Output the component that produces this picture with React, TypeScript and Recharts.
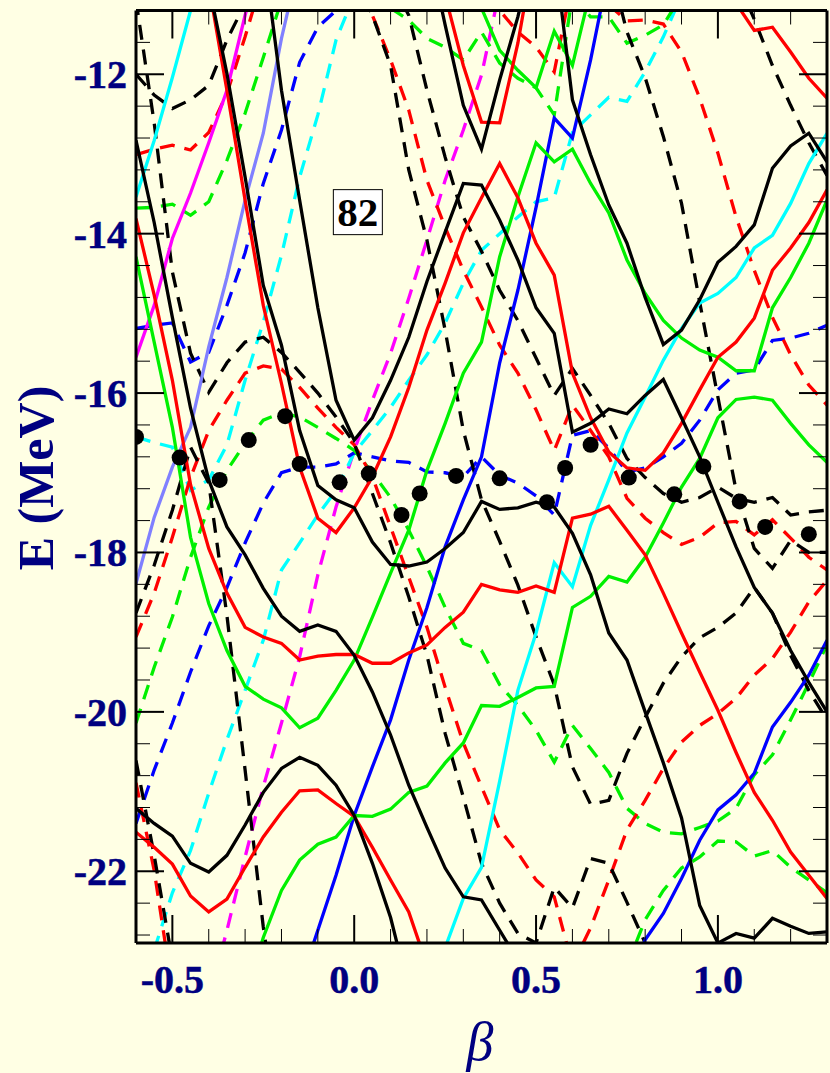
import React from 'react';
import { ComposedChart, Line, XAxis, YAxis, ReferenceDot } from 'recharts';

// Energy levels as [beta, E] pairs

const blackHump = [[-0.6,-21.21],[-0.55,-21.4],[-0.5,-21.56],[-0.45,-21.9],[-0.4,-22.01],[-0.35,-21.8],[-0.3,-21.42],[-0.25,-21.01],[-0.2,-20.71],[-0.15,-20.57],[-0.1,-20.67],[-0.05,-20.92],[0,-21.3],[0.05,-21.9],[0.1,-22.58],[0.15,-23.49]];
const blackLong = [[-0.6,-12.83],[-0.55,-13.86],[-0.5,-15.05],[-0.45,-16.19],[-0.4,-17.09],[-0.35,-17.68],[-0.3,-18.03],[-0.25,-18.45],[-0.2,-18.8],[-0.15,-18.99],[-0.1,-18.91],[-0.05,-18.99],[0,-19.29],[0.05,-19.75],[0.1,-20.29],[0.15,-20.92],[0.2,-21.45],[0.25,-21.96],[0.3,-22.32],[0.35,-22.36],[0.4,-22.74],[0.45,-23.12]];
const blackMid = [[-0.4,-10.88],[-0.35,-11.99],[-0.3,-13.29],[-0.25,-14.65],[-0.2,-15.4],[-0.15,-16.47],[-0.1,-17.16],[-0.05,-17.34],[0,-17.44],[0.05,-17.87],[0.1,-18.15],[0.15,-18.17],[0.2,-18.12],[0.25,-17.95],[0.3,-17.75],[0.35,-17.36],[0.4,-17.46],[0.45,-17.44],[0.5,-17.37],[0.55,-17.43],[0.6,-17.76],[0.65,-18.28],[0.7,-19.01],[0.75,-19.35],[0.8,-20],[0.85,-20.64],[0.9,-21.33],[0.95,-22.43],[1,-22.9],[1.05,-23.3]];
const blackBottom = [[0.95,-23.12],[1,-22.9],[1.05,-22.78],[1.1,-22.84],[1.15,-22.59],[1.2,-22.69],[1.25,-22.78],[1.3,-22.76]];
const blackV = [[-0.25,-10.44],[-0.2,-12.2],[-0.15,-13.58],[-0.1,-14.93],[-0.05,-16.09],[0,-16.59],[0.05,-16.31],[0.1,-15.84],[0.15,-15.3],[0.2,-14.6],[0.25,-13.98],[0.3,-13.37],[0.35,-13.39],[0.4,-13.83],[0.45,-14.33],[0.5,-14.93],[0.55,-15.25],[0.6,-16.49],[0.65,-16.38],[0.7,-16.2],[0.75,-16.26],[0.8,-16.03],[0.85,-15.83],[0.9,-16.31],[0.95,-16.8],[1,-17.37],[1.05,-17.93],[1.1,-18.44],[1.15,-18.76],[1.2,-19.23],[1.25,-19.63],[1.3,-20]];
const blackTop = [[0.2,-10.32],[0.25,-11.38],[0.3,-12.39],[0.35,-12.94],[0.4,-12.07],[0.45,-11.28],[0.5,-10.32]];
const blackRight = [[0.55,-10.44],[0.6,-12.32],[0.65,-13.01],[0.7,-13.64],[0.75,-14.12],[0.8,-14.8],[0.85,-15.39],[0.9,-15.21],[0.95,-14.83],[1,-14.36],[1.05,-14.16],[1.1,-13.89],[1.15,-13.18],[1.2,-12.9],[1.25,-12.74],[1.3,-13.1]];

const redHump = [[-0.6,-21.51],[-0.55,-21.7],[-0.5,-21.91],[-0.45,-22.31],[-0.4,-22.51],[-0.35,-22.35],[-0.3,-21.95],[-0.25,-21.57],[-0.2,-21.26],[-0.15,-20.99],[-0.1,-20.98],[-0.05,-21.15],[0,-21.31],[0.05,-21.7],[0.1,-22.11],[0.15,-22.51],[0.2,-23.18]];
const redLong = [[-0.6,-13.81],[-0.55,-14.77],[-0.5,-15.84],[-0.45,-17.15],[-0.4,-17.95],[-0.35,-18.51],[-0.3,-18.94],[-0.25,-19.06],[-0.2,-19.14],[-0.15,-19.35],[-0.1,-19.3],[-0.05,-19.28],[0,-19.28],[0.05,-19.39],[0.1,-19.39],[0.15,-19.26],[0.2,-19.16],[0.25,-18.94],[0.3,-18.75],[0.35,-18.4],[0.4,-18.47],[0.45,-18.5],[0.5,-18.42],[0.55,-18.5],[0.6,-17.57],[0.65,-17.52],[0.7,-17.42],[0.75,-17.72],[0.8,-18.03],[0.85,-18.51],[0.9,-19.01],[0.95,-19.5],[1,-19.98],[1.05,-20.51],[1.1,-21.01],[1.15,-21.36],[1.2,-21.76],[1.25,-22.05],[1.3,-22.34]];
const redMid = [[-0.4,-10.88],[-0.35,-12.2],[-0.3,-13.58],[-0.25,-14.9],[-0.2,-15.88],[-0.15,-16.93],[-0.1,-17.57],[-0.05,-17.75],[0,-17.44],[0.05,-17.05],[0.1,-16.55],[0.15,-15.93],[0.2,-15.21],[0.25,-14.62],[0.3,-13.99],[0.35,-13.55],[0.4,-13.12],[0.45,-13.55],[0.5,-14.12],[0.55,-14.52],[0.6,-15.75],[0.65,-16.31],[0.7,-16.74],[0.75,-16.94],[0.8,-16.97],[0.85,-16.75],[0.9,-16.38],[0.95,-15.96],[1,-15.55],[1.05,-15.36],[1.1,-15.06],[1.15,-14.46],[1.2,-14.18],[1.25,-13.86],[1.3,-13.45]];
const redTop = [[0.25,-11.01],[0.3,-11.89],[0.35,-12.6],[0.4,-12.61],[0.45,-11.61],[0.5,-10.32]];
const redCorner = [[1,-10.07],[1.05,-11.11],[1.1,-11.45],[1.15,-11.41],[1.2,-11.72],[1.25,-12.05],[1.3,-12.3]];

const greenLong = [[-0.6,-14.29],[-0.55,-15.36],[-0.5,-16.43],[-0.45,-17.81],[-0.4,-18.64],[-0.35,-19.23],[-0.3,-19.68],[-0.25,-19.84],[-0.2,-19.95],[-0.15,-20.2],[-0.1,-20.08],[-0.05,-19.73],[0,-19.35],[0.05,-18.81],[0.1,-18.26],[0.15,-17.72],[0.2,-16.97],[0.25,-16.38],[0.3,-15.75],[0.35,-15.36],[0.4,-14.29],[0.45,-13.54],[0.5,-12.86],[0.55,-13.1],[0.6,-12.94],[0.65,-13.37],[0.7,-13.74],[0.75,-14.33],[0.8,-14.75],[0.85,-15.09],[0.9,-15.31],[0.95,-15.46],[1,-15.55],[1.05,-15.72],[1.1,-15.72],[1.15,-14.93],[1.2,-14.55],[1.25,-14.12],[1.3,-13.58]];
const greenLow = [[-0.3,-23.62],[-0.25,-22.83],[-0.2,-22.24],[-0.15,-21.86],[-0.1,-21.66],[-0.05,-21.57],[0,-21.3],[0.05,-21.31],[0.1,-21.22],[0.15,-21.01],[0.2,-20.93],[0.25,-20.64],[0.3,-20.39],[0.35,-19.92],[0.4,-19.93],[0.45,-19.82],[0.5,-19.7],[0.55,-19.68],[0.6,-18.69],[0.65,-18.55],[0.7,-18.3],[0.75,-18.37],[0.8,-18.06],[0.85,-17.63],[0.9,-17.18],[0.95,-16.82],[1,-16.31],[1.05,-16.08],[1.1,-16.05],[1.15,-16.09],[1.2,-16.38],[1.25,-16.65],[1.3,-16.87]];
const greenTop = [[0.3,-10.57],[0.35,-11.17],[0.4,-11.7],[0.45,-11.95],[0.5,-12.17],[0.55,-11.46],[0.6,-11.89],[0.65,-10.94]];

const blueMid = [[-0.15,-23.43],[-0.1,-22.74],[-0.05,-22.05],[0,-21.3],[0.05,-20.69],[0.1,-20.1],[0.15,-19.35],[0.2,-18.69],[0.25,-17.93],[0.3,-17.34],[0.35,-16.8],[0.4,-15.62],[0.45,-14.71],[0.5,-13.67],[0.55,-12.55],[0.6,-12.8],[0.65,-11.82],[0.7,-10.69]];
const blueRight = [[0.75,-23.43],[0.8,-22.86],[0.85,-22.53],[0.9,-22.09],[0.95,-21.61],[1,-21.23],[1.05,-21.04],[1.1,-20.77],[1.15,-20.19],[1.2,-19.88],[1.25,-19.54],[1.3,-19.1]];
const cyanLeft = [[-0.6,-13.54],[-0.55,-12.83],[-0.5,-12.04],[-0.45,-11.2],[-0.4,-10.32]];
const cyanRight = [[0.25,-22.96],[0.3,-22.34],[0.35,-21.95],[0.4,-20.87],[0.45,-19.73],[0.5,-19.01],[0.55,-18.13],[0.6,-18.43],[0.65,-17.66],[0.7,-17.09],[0.75,-16.5],[0.8,-16.05],[0.85,-15.59],[0.9,-15.19],[0.95,-14.87],[1,-14.75],[1.05,-14.55],[1.1,-14.18],[1.15,-14.02],[1.2,-13.62],[1.25,-13.12],[1.3,-12.74]];
const lightBlue = [[-0.6,-18.39],[-0.55,-17.56],[-0.5,-16.93],[-0.45,-16.43],[-0.4,-15.42],[-0.35,-14.55],[-0.3,-13.58],[-0.25,-12.74],[-0.2,-11.55],[-0.15,-10.57]];
const magenta = [[-0.6,-15.55],[-0.55,-14.9],[-0.5,-14.06],[-0.45,-13.49],[-0.4,-12.86],[-0.35,-12.2],[-0.3,-11.26],[-0.25,-10.44]];

const dashBlueLong = [[-0.6,-21.4],[-0.55,-20.73],[-0.5,-20.14],[-0.45,-19.5],[-0.4,-18.92],[-0.35,-18.44],[-0.3,-17.88],[-0.25,-17.38],[-0.2,-17],[-0.15,-16.93],[-0.1,-16.93],[-0.05,-16.89],[0,-16.75],[0.05,-16.8],[0.1,-16.85],[0.15,-16.87],[0.2,-16.99],[0.25,-17],[0.3,-17.05],[0.35,-16.8],[0.4,-17.03],[0.45,-17.13],[0.5,-17.29],[0.55,-17.53],[0.6,-16.53],[0.65,-16.47],[0.7,-16.69],[0.75,-16.99],[0.8,-16.94],[0.85,-16.8],[0.9,-16.63],[0.95,-16.34],[1,-15.96],[1.05,-15.75],[1.1,-15.71],[1.15,-15.34],[1.2,-15.31],[1.25,-15.25],[1.3,-15.15]];
const dashBlueTop = [[-0.6,-15.19],[-0.55,-15.15],[-0.5,-15.12],[-0.45,-15.61],[-0.4,-15.49],[-0.35,-14.9],[-0.3,-14.24],[-0.25,-13.37],[-0.2,-12.7],[-0.15,-11.85],[-0.1,-11.41],[-0.05,-11.2],[0,-10.69]];
const dashCyanTop = [[-0.6,-16.55],[-0.55,-16.62],[-0.5,-16.68],[-0.45,-17.22],[-0.4,-17.09],[-0.35,-16.65],[-0.3,-15.84],[-0.25,-15.11],[-0.2,-14.27],[-0.15,-13.29],[-0.1,-12.51],[-0.05,-11.57],[0,-11.01]];
const dashCyanLong = [[-0.55,-22.99],[-0.5,-22.27],[-0.45,-21.74],[-0.4,-21.02],[-0.35,-20.35],[-0.3,-19.73],[-0.25,-19.1],[-0.2,-18.22],[-0.15,-17.88],[-0.1,-17.53],[-0.05,-17.22],[0,-16.75],[0.05,-16.47],[0.1,-16.18],[0.15,-15.84],[0.2,-15.52],[0.25,-15.12],[0.3,-14.62],[0.35,-14.21],[0.4,-14],[0.45,-13.79],[0.5,-13.6],[0.55,-13.55],[0.6,-12.73],[0.65,-12.51],[0.7,-12.29],[0.75,-12.34],[0.8,-11.97],[0.85,-11.53],[0.9,-11.01]];
const dashMagenta = [[-0.4,-23.62],[-0.35,-22.74],[-0.3,-21.82],[-0.25,-20.94],[-0.2,-20.14],[-0.15,-19.31],[-0.1,-18.28],[-0.05,-17.43],[0,-16.72],[0.05,-16.09],[0.1,-15.5],[0.15,-14.81],[0.2,-14.08],[0.25,-13.33],[0.3,-12.7],[0.35,-12.01],[0.4,-10.94]];

const dashGreenLeft = [[-0.6,-13.68],[-0.55,-13.67],[-0.5,-13.63],[-0.45,-13.77],[-0.4,-13.6],[-0.35,-13.08],[-0.3,-12.49],[-0.25,-11.79],[-0.2,-11.07]];
const dashGreenLong = [[-0.6,-20.14],[-0.55,-19.44],[-0.5,-18.81],[-0.45,-18.06],[-0.4,-17.43],[-0.35,-16.97],[-0.3,-16.63],[-0.25,-16.34],[-0.2,-16.25],[-0.15,-16.3],[-0.1,-16.43],[-0.05,-16.57],[0,-16.72],[0.05,-17],[0.1,-17.31],[0.15,-17.72],[0.2,-18.18],[0.25,-18.69],[0.3,-19.14],[0.35,-19.23],[0.4,-19.66],[0.45,-19.92],[0.5,-20.23],[0.55,-20.63],[0.6,-20.17],[0.65,-20.46],[0.7,-20.76],[0.75,-21.21],[0.8,-21.4],[0.85,-21.51],[0.9,-21.53],[0.95,-21.45],[1,-21.37],[1.05,-21.21],[1.1,-20.79],[1.15,-20.54],[1.2,-20.1],[1.25,-19.64],[1.3,-19.16]];
const dashGreenLow = [[0.75,-23.18],[0.8,-22.61],[0.85,-22.24],[0.9,-21.96],[0.95,-21.82],[1,-21.62],[1.05,-21.63],[1.1,-21.81],[1.15,-21.74],[1.2,-21.95],[1.25,-22.11],[1.3,-22.27]];
const dashGreenTop = [[0.1,-11.17],[0.15,-11.32],[0.2,-11.55],[0.25,-11.66],[0.3,-11.82],[0.35,-11.47],[0.4,-11.86],[0.45,-12.05],[0.5,-12.17],[0.55,-12.51],[0.6,-11.01]];
const dashGreenCorner = [[0.6,-11.01],[0.65,-11.28],[0.7,-11.28],[0.75,-11.61],[0.8,-11.51],[0.85,-11.38],[0.9,-11.01]];

const dashRedLeft = [[-0.6,-13.01],[-0.55,-12.94],[-0.5,-12.89],[-0.45,-12.95],[-0.4,-12.73],[-0.35,-12.24],[-0.3,-11.53],[-0.25,-10.76]];
const dashRedLong = [[0,-10.69],[0.05,-11.26],[0.1,-11.82],[0.15,-12.45],[0.2,-13.33],[0.25,-13.92],[0.3,-14.46],[0.35,-14.92],[0.4,-15.4],[0.45,-15.75],[0.5,-16.21],[0.55,-16.72],[0.6,-16.15],[0.65,-16.47],[0.7,-16.8],[0.75,-17.32],[0.8,-17.57],[0.85,-17.75],[0.9,-17.9],[0.95,-17.81],[1,-17.63],[1.05,-17.61],[1.1,-17.78],[1.15,-17.59],[1.2,-17.82],[1.25,-18.06],[1.3,-18.22]];
const dashRedTop = [[0.35,-10.69],[0.4,-11.2],[0.45,-11.47],[0.5,-11.66],[0.55,-11.97],[0.6,-10.82]];
const dashRedRight = [[0.7,-11.13],[0.75,-11.33],[0.8,-11.32],[0.85,-11.37],[0.9,-11.72],[0.95,-12.3],[1,-12.99],[1.05,-13.79],[1.1,-14.46],[1.15,-15.05],[1.2,-15.52],[1.25,-15.9],[1.3,-16.15]];
const dashRedHump = [[-0.6,-19.06],[-0.55,-18.51],[-0.5,-17.81],[-0.45,-17.06],[-0.4,-16.47],[-0.35,-16.09],[-0.3,-15.75],[-0.25,-15.66],[-0.2,-15.7],[-0.15,-15.93],[-0.1,-16.19],[-0.05,-16.43],[0,-16.65],[0.05,-17.05],[0.1,-17.68],[0.15,-18.31],[0.2,-18.94],[0.25,-19.69],[0.3,-20.39],[0.35,-20.94],[0.4,-21.48],[0.45,-21.77],[0.5,-22.11],[0.55,-22.32],[0.6,-23.18]];
const dashRedRise = [[0.6,-23.18],[0.65,-22.71],[0.7,-22.11],[0.75,-21.48],[0.8,-21.11],[0.85,-20.71],[0.9,-20.38],[0.95,-20.17],[1,-20.02],[1.05,-19.83],[1.1,-19.54],[1.15,-19.33],[1.2,-19],[1.25,-18.62],[1.3,-18.35]];
const dashRedSteep = [[-0.6,-20.89],[-0.55,-21.99],[-0.5,-23.49]];

const dashBlackHump = [[-0.6,-11.07],[-0.55,-12.61],[-0.5,-14.48],[-0.45,-15.5],[-0.4,-15.99],[-0.35,-15.62],[-0.3,-15.36],[-0.25,-15.3],[-0.2,-15.49],[-0.15,-15.74],[-0.1,-16],[-0.05,-16.3],[0,-16.63],[0.05,-17.26],[0.1,-17.88],[0.15,-18.56],[0.2,-19.29],[0.25,-20.27],[0.3,-21.07],[0.35,-21.9],[0.4,-22.4],[0.45,-22.78],[0.5,-22.9],[0.55,-22.2],[0.6,-22.46],[0.65,-21.84],[0.7,-21.9],[0.75,-22.39],[0.8,-22.9],[0.85,-23.49]];
const dashBlackBowl = [[-0.6,-12],[-0.55,-12.26],[-0.5,-12.43],[-0.45,-12.32],[-0.4,-12.14],[-0.35,-11.57],[-0.3,-11.11],[-0.25,-10.57]];
const dashBlackLong = [[0,-10.76],[0.05,-11.26],[0.1,-11.89],[0.15,-13.2],[0.2,-14.08],[0.25,-15.21],[0.3,-16.47],[0.35,-17.34],[0.4,-17.86],[0.45,-18.41],[0.5,-19.06],[0.55,-19.66],[0.6,-20.69],[0.65,-21.16],[0.7,-21.11],[0.75,-20.52],[0.8,-20.07],[0.85,-19.64],[0.9,-19.31],[0.95,-19.07],[1,-18.94],[1.05,-18.76],[1.1,-18.44],[1.15,-18.76],[1.2,-19.29],[1.25,-19.73],[1.3,-20.1]];
const dashBlackMid = [[0.1,-10.82],[0.15,-11.26],[0.2,-12.2],[0.25,-13.04],[0.3,-13.79],[0.35,-14.22],[0.4,-14.71],[0.45,-15.09],[0.5,-15.56],[0.55,-16.03],[0.6,-15.69],[0.65,-16.03],[0.7,-16.38],[0.75,-16.82],[0.8,-17.06],[0.85,-17.26],[0.9,-17.37],[0.95,-17.31],[1,-17.18],[1.05,-17.32],[1.1,-17.37],[1.15,-17.31],[1.2,-17.53],[1.25,-17.49],[1.3,-17.47]];
const dashBlackRight = [[0.7,-10.57],[0.75,-11.47],[0.8,-12.04],[0.85,-12.78],[0.9,-13.62],[0.95,-14.86],[1,-16.05],[1.05,-17.22],[1.1,-17.95],[1.15,-18.2],[1.2,-17.85],[1.25,-18],[1.3,-18]];
const dashBlackCorner = [[1,-10.69],[1.05,-10.79],[1.1,-11.31],[1.15,-11.89],[1.2,-12.39],[1.25,-12.86],[1.3,-13.27]];
const dashBlackPeak = [[-0.6,-18.76],[-0.55,-18.16],[-0.5,-17.47],[-0.45,-16.68],[-0.4,-17.13],[-0.35,-18.79],[-0.3,-20.73],[-0.25,-22.7],[-0.2,-24.25]];
const dashBlackSteep = [[-0.6,-20.61],[-0.55,-21.8],[-0.5,-23.12]];

const groundState = [[-0.6,-16.55],[-0.48,-16.81],[-0.37,-17.09],[-0.29,-16.59],[-0.19,-16.29],[-0.15,-16.89],[-0.04,-17.12],[0.04,-17.01],[0.13,-17.53],[0.18,-17.26],[0.28,-17.04],[0.4,-17.07],[0.53,-17.37],[0.58,-16.94],[0.65,-16.65],[0.755,-17.06],[0.88,-17.27],[0.96,-16.92],[1.06,-17.36],[1.13,-17.68],[1.25,-17.77]];

const xTicks = [-0.5,-0.4,-0.3,-0.2,-0.1,0,0.1,0.2,0.3,0.4,0.5,0.6,0.7,0.8,0.9,1,1.1,1.2];
const xMajor = [-0.5,0,0.5,1];
const yTicks = [-22.8,-22.4,-22,-21.6,-21.2,-20.8,-20.4,-20,-19.6,-19.2,-18.8,-18.4,-18,-17.6,-17.2,-16.8,-16.4,-16,-15.6,-15.2,-14.8,-14.4,-14,-13.6,-13.2,-12.8,-12.4,-12,-11.6];
const yMajor = [-22,-20,-18,-16,-14,-12];

const RED = '#ff0000';
const GREEN = '#00f000';
const BLUE = '#0000ff';
const CYAN = '#00ffff';
const MAGENTA = '#ff00ff';
const LIGHT_BLUE = '#8080ff';
const BLACK = '#000000';
const NAVY = '#000080';
const PAPER = '#ffffe4';
const SERIF = '"Liberation Serif", serif';

const solidLevels: [number[][], string][] = [
  [lightBlue, LIGHT_BLUE], [magenta, MAGENTA], [cyanLeft, CYAN], [cyanRight, CYAN],
  [blueMid, BLUE], [blueRight, BLUE], [greenLong, GREEN], [greenLow, GREEN], [greenTop, GREEN],
  [redHump, RED], [redLong, RED], [redMid, RED], [redTop, RED], [redCorner, RED],
  [blackHump, BLACK], [blackLong, BLACK], [blackMid, BLACK], [blackBottom, BLACK],
  [blackV, BLACK], [blackTop, BLACK], [blackRight, BLACK],
];

const dashedLevels: [number[][], string][] = [
  [dashMagenta, MAGENTA], [dashCyanTop, CYAN], [dashCyanLong, CYAN], [dashBlueLong, BLUE], [dashBlueTop, BLUE],
  [dashGreenLeft, GREEN], [dashGreenLong, GREEN], [dashGreenLow, GREEN], [dashGreenTop, GREEN], [dashGreenCorner, GREEN],
  [dashRedLeft, RED], [dashRedLong, RED], [dashRedTop, RED], [dashRedRight, RED], [dashRedHump, RED], [dashRedRise, RED], [dashRedSteep, RED],
  [dashBlackHump, BLACK], [dashBlackBowl, BLACK], [dashBlackLong, BLACK], [dashBlackMid, BLACK], [dashBlackRight, BLACK],
  [dashBlackCorner, BLACK], [dashBlackPeak, BLACK], [dashBlackSteep, BLACK],
];

const toRows = (pairs: number[][]) => pairs.map(([b, e]) => ({ b, e }));

const labelStyle = { fontFamily: SERIF, fontWeight: 700, fontSize: 40, fill: NAVY, stroke: NAVY, strokeWidth: 0.5 };

// ticks point into the frame, long ones carry the labels on bottom and left
function XTick({ x, y, payload, side }: any) {
  const major = xMajor.includes(payload.value);
  const len = major ? 28 : 14;
  const dir = side === 'top' ? 1 : -1;
  return (
    <g>
      <line x1={x} x2={x} y1={y} y2={y + dir * len} stroke={BLACK} strokeWidth={major ? 2 : 1} />
      {major && side === 'bottom' && (
        <text x={x} y={y + 50} textAnchor="middle" {...labelStyle}>
          {payload.value.toFixed(1)}
        </text>
      )}
    </g>
  );
}

function YTick({ x, y, payload, side }: any) {
  const major = yMajor.includes(payload.value);
  const len = major ? 28 : 14;
  const dir = side === 'left' ? 1 : -1;
  return (
    <g>
      <line x1={x} x2={x + dir * len} y1={y} y2={y} stroke={BLACK} strokeWidth={major ? 2 : 1} />
      {major && side === 'left' && (
        <text x={x - 9} y={y + 14} textAnchor="end" {...labelStyle}>
          {payload.value}
        </text>
      )}
    </g>
  );
}

function ShellLabel({ cx, cy }: any) {
  return (
    <g>
      <rect x={cx - 24.5} y={cy - 22.5} width={49} height={45} fill="#ffffff" stroke={BLACK} strokeWidth={1} />
      <text x={cx} y={cy + 14} textAnchor="middle" fontFamily={SERIF} fontWeight={700} fontSize={41} fill={BLACK}>
        82
      </text>
    </g>
  );
}

export default function App() {
  const frame = { stroke: BLACK, strokeWidth: 3 };
  return (
    <div style={{ position: 'absolute', left: 0, top: 0, width: 830, height: 1073, background: PAPER, overflow: 'hidden' }}>
      <ComposedChart width={830} height={1073} margin={{ top: 9.5, right: 2, bottom: 129, left: 135 }}>
        <XAxis
          dataKey="b"
          type="number"
          domain={[-0.6, 1.3]}
          ticks={xTicks}
          interval={0}
          height={1}
          allowDataOverflow
          tickSize={0}
          tickMargin={0}
          axisLine={frame}
          tick={<XTick side="bottom" />}
        />
        <XAxis
          xAxisId="top"
          orientation="top"
          dataKey="b"
          type="number"
          domain={[-0.6, 1.3]}
          ticks={xTicks}
          interval={0}
          height={1}
          allowDataOverflow
          tickSize={0}
          tickMargin={0}
          axisLine={frame}
          tick={<XTick side="top" />}
        />
        <YAxis
          dataKey="e"
          type="number"
          domain={[-22.9, -11.2]}
          ticks={yTicks}
          interval={0}
          width={1}
          allowDataOverflow
          tickSize={0}
          tickMargin={0}
          axisLine={frame}
          tick={<YTick side="left" />}
        />
        <YAxis
          yAxisId="right"
          orientation="right"
          dataKey="e"
          type="number"
          domain={[-22.9, -11.2]}
          ticks={yTicks}
          interval={0}
          width={1}
          allowDataOverflow
          tickSize={0}
          tickMargin={0}
          axisLine={frame}
          tick={<YTick side="right" />}
        />
        {dashedLevels.map(([pairs, color], i) => (
          <Line
            key={`dash-${i}`}
            data={toRows(pairs)}
            dataKey="e"
            type="linear"
            stroke={color}
            strokeWidth={3.3}
            strokeDasharray="15 10"
            dot={false}
            activeDot={false}
            isAnimationActive={false}
          />
        ))}
        {solidLevels.map(([pairs, color], i) => (
          <Line
            key={`solid-${i}`}
            data={toRows(pairs)}
            dataKey="e"
            type="linear"
            stroke={color}
            strokeWidth={3.3}
            dot={false}
            activeDot={false}
            isAnimationActive={false}
          />
        ))}
        <Line
          data={toRows(groundState)}
          dataKey="e"
          type="linear"
          stroke="none"
          dot={{ r: 8, fill: BLACK, stroke: BLACK, strokeWidth: 0 }}
          activeDot={false}
          isAnimationActive={false}
        />
        <ReferenceDot x={0.01} y={-13.73} r={0} shape={<ShellLabel />} />
      </ComposedChart>
      <svg width={830} height={1073} style={{ position: 'absolute', left: 0, top: 0, pointerEvents: 'none' }}>
        <text x={53} y={478} transform="rotate(-90 53 478)" textAnchor="middle" fontFamily={SERIF} fontWeight={700} fontSize={50} fill={NAVY}>
          E (MeV)
        </text>
        <text x={480} y={1060} textAnchor="middle" fontFamily={SERIF} fontStyle="italic" fontSize={54} fill={NAVY}>
          β
        </text>
      </svg>
    </div>
  );
}
